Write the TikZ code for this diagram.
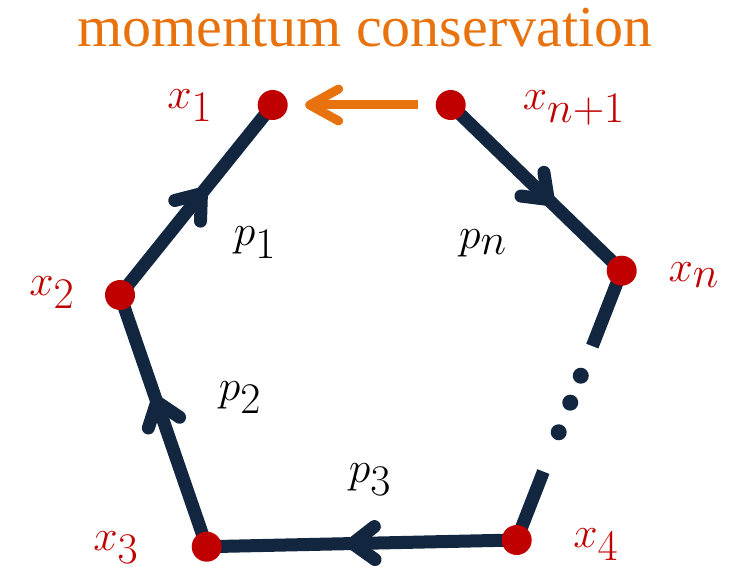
\documentclass[tikz,border=0pt]{standalone}
\usepackage{fontspec}
\usetikzlibrary{arrows.meta, calc, decorations.markings}
\newfontfamily\titlefont{Liberation Serif}
\definecolor{loopnavy}{HTML}{12263F}
\definecolor{vertred}{HTML}{C00000}
\definecolor{conserv}{HTML}{E8730E}

\begin{document}
\begin{tikzpicture}[
    edge/.style={draw=loopnavy, line width=0.26cm},
    midarrow/.style={edge, postaction={decorate}, decoration={markings,
        mark=at position #1 with {\arrow{Straight Barb[length=0.44cm, width=0.66cm, round]}}}},
    dot/.style={circle, fill=vertred, minimum size=0.6cm, inner sep=0pt},
    vlabel/.style={text=vertred, font=\fontsize{36}{40}\selectfont},
    plabel/.style={text=black, font=\fontsize{36}{40}\selectfont},
]
\useasboundingbox (0,0) rectangle (14.82,11.4);

% vertices of the loop
\coordinate (x1) at (5.454, 9.30);
\coordinate (xn1) at (9.014, 9.30);
\coordinate (x2) at (2.40, 5.50);
\coordinate (x3) at (4.134, 0.466);
\coordinate (x4) at (10.334, 0.60);
\coordinate (xn) at (12.434, 5.986);

% loop edges
\draw[midarrow=0.56] (x2) -- (x1);
\draw[midarrow=0.60] (x3) -- (x2);
\draw[midarrow=0.55] (x4) -- (x3);
\draw[midarrow=0.60] (xn1) -- (xn);

% broken edge between x_n and x_4
\draw[edge] (xn) -- ($(xn)!0.28!(x4)$);
\draw[edge] ($(xn)!0.746!(x4)$) -- (x4);
\foreach \t in {0.39, 0.49, 0.60} {
    \fill[loopnavy] ($(xn)!\t!(x4)$) circle (0.16);
}

% vertex dots
\foreach \v in {x1, xn1, x2, x3, x4, xn} {
    \node[dot] (\v dot) at (\v) {};
}

% momentum conservation arrow
\draw[conserv, line width=0.18cm, -{Straight Barb[length=0.58cm, width=0.64cm, round]},
      shorten <=0.66cm, shorten >=0.65cm] (xn1) -- (x1);
\node[text=conserv, font=\titlefont\fontsize{33}{36}\selectfont] (title) at (7.30, 10.84)
    {momentum conservation};

% vertex labels
\node[vlabel] (lx1) at (3.80, 9.28) {$x_1$};
\node[vlabel] (lxn1) at (11.48, 9.24) {$x_{n+1}$};
\node[vlabel] (lx2) at (1.04, 5.54) {$x_2$};
\node[vlabel] (lx3) at (2.32, 0.44) {$x_3$};
\node[vlabel] (lx4) at (11.92, 0.50) {$x_4$};
\node[vlabel] (lxn) at (13.88, 5.90) {$x_n$};

% momentum labels
\node[plabel] (lp1) at (5.10, 6.54) {$p_1$};
\node[plabel] (lpn) at (9.66, 6.54) {$p_n$};
\node[plabel] (lp2) at (4.80, 3.44) {$p_2$};
\node[plabel] (lp3) at (7.40, 1.80) {$p_3$};

\end{tikzpicture}
\end{document}
